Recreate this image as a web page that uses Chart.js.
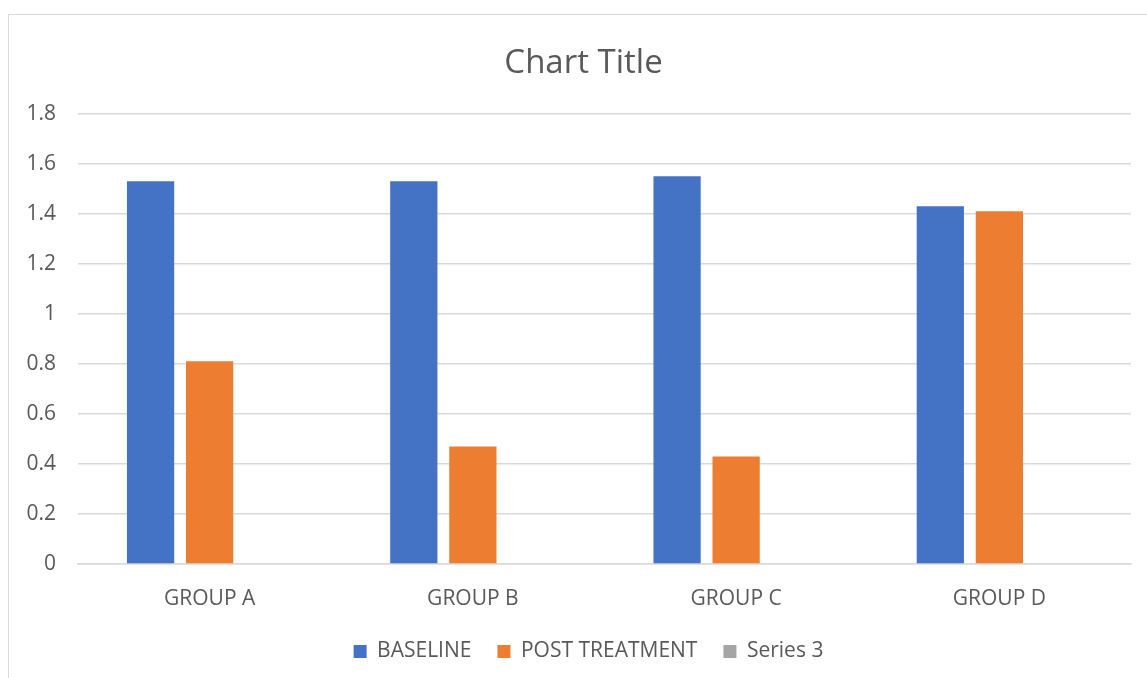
<!DOCTYPE html>
<html>
<head>
<meta charset="utf-8">
<script src="https://cdn.jsdelivr.net/npm/chart.js@4"></script>
<style>
  html, body { margin: 0; padding: 0; background: #fff; overflow: hidden; }
  #frame {
    position: absolute; left: 8px; top: 14px; width: 1160px; height: 700px;
    border: 1.5px solid #d9d9d9; box-sizing: border-box;
  }
  #wrap { position: absolute; left: 0; top: 0; width: 1147px; height: 678px; }
</style>
</head>
<body>
<div id="frame"></div>
<div id="wrap"><canvas id="chart"></canvas></div>
<script>
const categories = ['GROUP A', 'GROUP B', 'GROUP C', 'GROUP D'];
const baseline = [1.53, 1.53, 1.55, 1.43];
const postTreatment = [0.81, 0.47, 0.43, 1.41];
const series3 = [null, null, null, null];

const textColor = '#595959';
const gridColor = '#d9d9d9';
const fontFamily = '"Open Sans", "Liberation Sans", sans-serif';

// nudge title and legend right so they sit centred on the framed box
const centerOnFrame = {
    id: 'centerOnFrame',
    afterLayout(chart) {
        const shifts = [[chart.titleBlock, 18], [chart.legend, 23]];
        for (const [box, dx] of shifts) {
            box.left += dx;
            box.right += dx;
        }
    }
};

const ctx = document.getElementById('chart').getContext('2d');
new Chart(ctx, {
    type: 'bar',
    data: {
        labels: categories,
        datasets: [
            { label: 'BASELINE', data: baseline, backgroundColor: '#4472c4' },
            { label: 'POST TREATMENT', data: postTreatment, backgroundColor: '#ed7d31' },
            { label: 'Series 3', data: series3, backgroundColor: '#a5a5a5' }
        ]
    },
    plugins: [centerOnFrame],
    options: {
        responsive: true,
        maintainAspectRatio: false,
        animation: false,
        layout: { padding: { left: 0, right: 16, top: 44, bottom: 6 } },
        datasets: { bar: { categoryPercentage: 0.673, barPercentage: 0.8 } },
        scales: {
            x: {
                grid: { display: false, drawTicks: false },
                border: { display: true, color: gridColor, width: 1.5 },
                ticks: { color: textColor, font: { family: fontFamily, size: 21 }, padding: 22 },
                afterFit(scale) { scale.height = 51; }
            },
            y: {
                min: 0,
                max: 1.8,
                ticks: {
                    stepSize: 0.2,
                    color: textColor,
                    font: { family: fontFamily, size: 21 },
                    padding: 22,
                    callback: (v) => String(Math.round(v * 10) / 10)
                },
                grid: { color: gridColor, lineWidth: 1.5, drawTicks: false },
                border: { display: false },
                afterFit(scale) { scale.width = 78; }
            }
        },
        plugins: {
            title: {
                display: true,
                text: 'Chart Title',
                color: textColor,
                font: { family: fontFamily, size: 33, weight: 'normal' },
                padding: { top: 0, bottom: 30 }
            },
            legend: {
                position: 'bottom',
                labels: {
                    color: textColor,
                    font: { family: fontFamily, size: 21 },
                    boxWidth: 13,
                    boxHeight: 13,
                    padding: 26
                }
            },
            tooltip: { enabled: false }
        }
    }
});
</script>
</body>
</html>
